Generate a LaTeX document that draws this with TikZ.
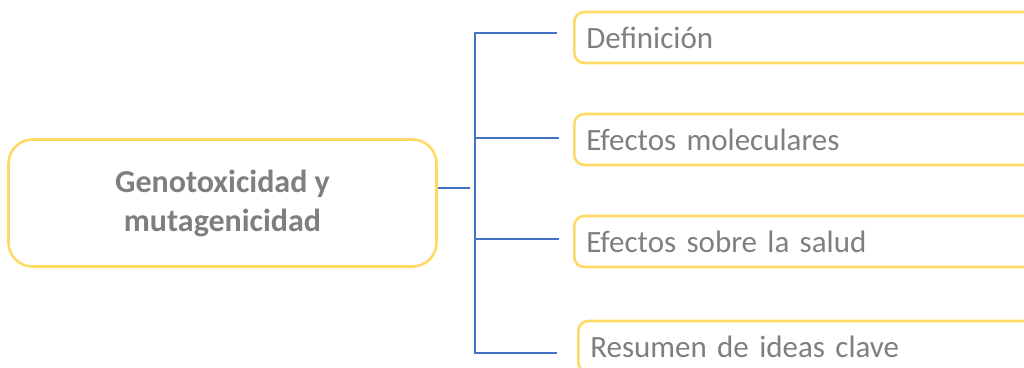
\documentclass[tikz,border=0pt]{standalone}
\usepackage{fontspec}
\setmainfont{Carlito}
\definecolor{boxgold}{HTML}{FFD966}
\definecolor{textgray}{HTML}{7F7F7F}
\definecolor{linkblue}{HTML}{4472C4}
\begin{document}
\begin{tikzpicture}[x=1pt,y=-1pt]

    \tikzset{
      topic/.style={
        draw=boxgold,
        line width=2.6pt,
        rounded corners=24pt,
        minimum width=428pt,
        minimum height=127pt,
        align=center,
        text=textgray,
        font=\fontsize{32}{39}\selectfont\bfseries,
      },
      item/.style={
        draw=boxgold,
        line width=2.6pt,
        rounded corners=10pt,
        anchor=west,
        text width=456pt,
        inner xsep=12pt,
        minimum height=51pt,
        align=left,
        text=textgray,
        font=\fontsize{31}{36}\selectfont,
      },
      link/.style={
        draw=linkblue,
        line width=1.3pt,
      },
    }
    \useasboundingbox (0,0) rectangle (1024,367);
    \clip (0,0) rectangle (1024,367);
	\node[topic] (main) at (222.5,203) {Genotoxicidad y\\mutagenicidad};
	\node[item] (def) at (573,37.5) {Definición};
	\node[item] (mol) at (573,139.5) {Efectos moleculares};
	\node[item] (sal) at (573,241.5) {Efectos sobre la salud};
	\node[item] (res) at (577,346.5) {Resumen de ideas clave};
	\coordinate (bus) at (475,188);
	\coordinate (e1) at (557,33);
	\coordinate (e2) at (559,138);
	\coordinate (e3) at (559,239);
	\coordinate (e4) at (557,353);
	\draw[link] (main.east |- bus) -- (470,188);
	\draw[link] (e1) -- (e1 -| bus) -- (e4 -| bus) -- (e4);
	\draw[link] (e2 -| bus) -- (e2);
	\draw[link] (e3 -| bus) -- (e3);

\end{tikzpicture}
\end{document}
